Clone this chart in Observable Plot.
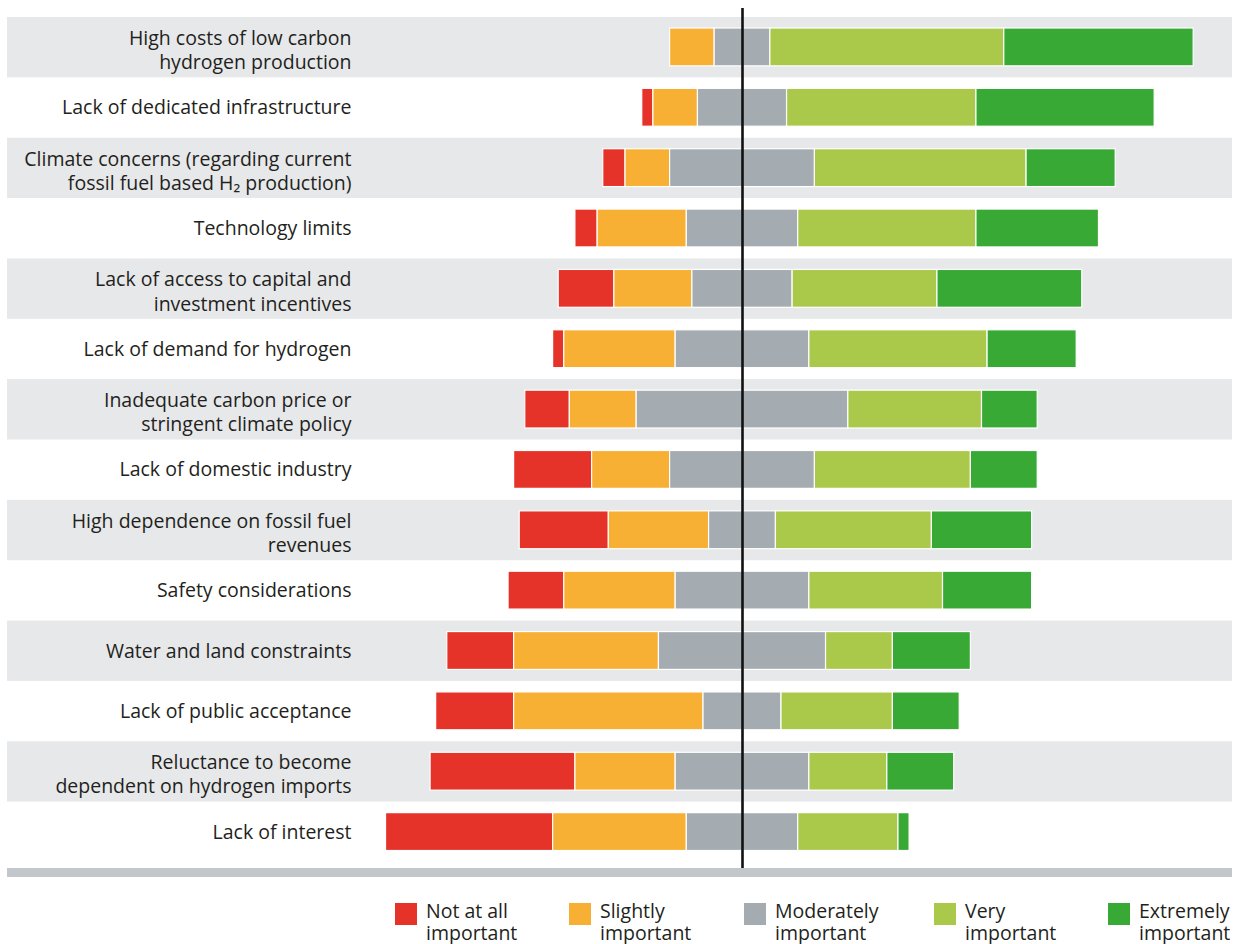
<!DOCTYPE html>
<html>
<head>
<meta charset="utf-8">
<script src="https://cdn.jsdelivr.net/npm/d3@7"></script>
<script src="https://cdn.jsdelivr.net/npm/@observablehq/plot@0.6"></script>
<style>
  body { margin: 0; background: #fff; font-family: "Open Sans", "Noto Sans", sans-serif; }
  #wrap { position: relative; width: 1237px; height: 944px; }
  #baseline { position: absolute; left: 7px; top: 868px; width: 1225px; height: 9px; background: #c2c7cb; }
  #legend { position: absolute; left: 0; top: 903px; width: 1237px; height: 41px; }
  .item { position: absolute; top: 0; display: flex; align-items: flex-start; }
  .sw { width: 22px; height: 22px; margin-right: 9px; flex: none; }
  .lt { margin-top: -3px; width: 110px; font-size: 19.5px; line-height: 22px; color: #231f20; white-space: normal; }
</style>
</head>
<body>
<div id="wrap">
  <div id="chart"></div>
  <div id="baseline"></div>
  <div id="legend"></div>
</div>
<script>
// Categories (top to bottom)
const barriers = [
  "High costs of low carbon\nhydrogen production",
  "Lack of dedicated infrastructure",
  "Climate concerns (regarding current\nfossil fuel based H\u2082 production)",
  "Technology limits",
  "Lack of access to capital and\ninvestment incentives",
  "Lack of demand for hydrogen",
  "Inadequate carbon price or\nstringent climate policy",
  "Lack of domestic industry",
  "High dependence on fossil fuel\nrevenues",
  "Safety considerations",
  "Water and land constraints",
  "Lack of public acceptance",
  "Reluctance to become\ndependent on hydrogen imports",
  "Lack of interest"
];

// Response levels
const levels = ["Not at all important", "Slightly important", "Moderately important", "Very important", "Extremely important"];

// Number of respondents per level (same order as barriers)
const notAtAll   = [0, 1, 2, 2, 5, 1, 4, 7, 8, 5, 6, 7, 13, 15];
const slightly   = [4, 4, 4, 8, 7, 10, 6, 7, 9, 10, 13, 17, 9, 12];
const moderately = [5, 8, 13, 10, 9, 12, 19, 13, 6, 12, 15, 7, 12, 10];
const very       = [21, 17, 19, 16, 13, 16, 12, 14, 14, 12, 6, 10, 7, 9];
const extremely  = [17, 16, 8, 11, 13, 8, 5, 6, 9, 8, 7, 6, 6, 1];

const colors = ["#e5332a", "#f7b033", "#a5acb1", "#aac94b", "#39a935"];

// Build diverging stacked segments (moderately important centred on zero)
const series = [notAtAll, slightly, moderately, very, extremely];
const segments = [];
barriers.forEach((b, i) => {
  let start = -(notAtAll[i] + slightly[i] + moderately[i] / 2);
  series.forEach((s, k) => {
    const v = s[i];
    if (v > 0) segments.push({barrier: b, level: levels[k], x1: start, x2: start + v});
    start += v;
  });
});

const W = 1237, H = 880;
const mL = 7, mR = 5, mT = 17, mB = 18;
const unit = 11.14; // px per respondent
const zeroPx = 742;
const xDomain = [-(zeroPx - mL) / unit, (W - mR - zeroPx) / unit];

const labelStyle = {
  y: d => d, text: d => d, frameAnchor: "left", dx: 344, textAnchor: "end",
  fontSize: 19.5, fill: "#231f20", lineHeight: 1.25
};

const chart = Plot.plot({
  width: W,
  height: H,
  marginLeft: mL,
  marginRight: mR,
  marginTop: mT,
  marginBottom: mB,
  style: {fontFamily: "'Open Sans', 'Noto Sans', sans-serif", background: "transparent"},
  x: {domain: xDomain, axis: null},
  y: {domain: barriers, padding: 0, round: false, axis: null},
  color: {domain: levels, range: colors},
  marks: [
    Plot.cell(barriers.filter((d, i) => i % 2 === 0), {y: d => d, fill: "#e7e8ea"}),
    Plot.barX(segments, {
      y: "barrier", x1: "x1", x2: "x2", fill: "level",
      stroke: "white", strokeWidth: 1.2, insetTop: 11, insetBottom: 11.5
    }),
    Plot.text(barriers.filter(d => d.includes("\n")), {...labelStyle, dy: 1.5}),
    Plot.text(barriers.filter(d => !d.includes("\n")), {...labelStyle, dy: -1.5}),
    Plot.ruleX([0], {stroke: "#111", strokeWidth: 2.6, insetTop: -9, insetBottom: -6})
  ]
});
document.getElementById("chart").appendChild(chart);

// Legend
const legendX = [395, 569, 744, 934, 1108];
const legend = document.getElementById("legend");
levels.forEach((lv, k) => {
  const item = document.createElement("div");
  item.className = "item";
  item.style.left = legendX[k] + "px";
  const sw = document.createElement("div");
  sw.className = "sw";
  sw.style.background = colors[k];
  const lt = document.createElement("div");
  lt.className = "lt";
  lt.textContent = lv;
  item.appendChild(sw);
  item.appendChild(lt);
  legend.appendChild(item);
});
</script>
</body>
</html>
